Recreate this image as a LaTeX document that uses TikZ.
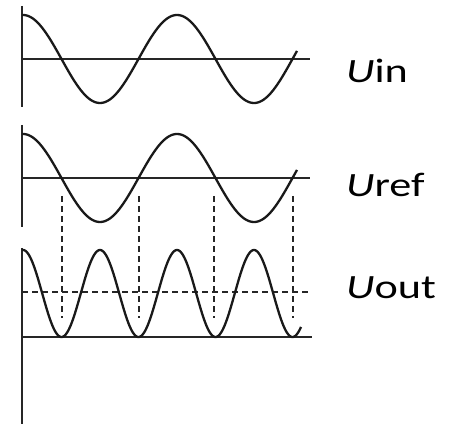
\documentclass[tikz,border=0pt]{standalone}
\usepackage{fontspec}
\usepackage{graphicx}
\setmainfont{Carlito}
\tikzset{
  axisline/.style={line width=2.2pt, color=black!85},
  wave/.style={line width=2.3pt, color=black!90, line join=round},
  guide/.style={line width=1.8pt, color=black!85, dash pattern=on 6pt off 4pt},
  lbl/.style={anchor=base west, inner sep=0pt, font=\fontsize{34}{40}\selectfont}
}
\begin{document}
\begin{tikzpicture}[x=1pt,y=1pt]
\useasboundingbox (0,0) rectangle (452,426);
% panel 1 (Uin)
\draw[axisline] (22,420) -- (22,319);
\draw[axisline] (22,367) -- (310,367);
\draw[wave] plot[domain=22:297, samples=220, smooth] (\x, {367+44*cos(2.3377*(\x-23))});
% panel 2 (Uref)
\draw[axisline] (22,301) -- (22,199);
\draw[axisline] (22,248) -- (310,248);
\draw[wave] plot[domain=22:297, samples=220, smooth] (\x, {248+44*cos(2.3377*(\x-23))});
% panel 3 (Uout)
\draw[axisline] (22,178) -- (22,2);
\draw[axisline] (22,89) -- (312,89);
\draw[guide] (22,134) -- (308,134);
\draw[wave] plot[domain=22:301, samples=300, smooth] (\x, {89+87*cos(2.3377*(\x-23))^2});
% vertical dashed guides
\foreach \xx [count=\i] in {62,139,214,293} {
  \coordinate (gt\i) at (\xx,230);
  \coordinate (gb\i) at (\xx,108);
  \draw[guide] (gt\i) -- (gb\i);
}
% labels
\node[lbl] (uin)  at (346,343) {\scalebox{1.3}[1]{\textit{U}in}};
\node[lbl] (uref) at (346,229) {\scalebox{1.3}[1]{\textit{U}ref}};
\node[lbl] (uout) at (346,128) {\scalebox{1.3}[1]{\textit{U}out}};
\end{tikzpicture}
\end{document}
